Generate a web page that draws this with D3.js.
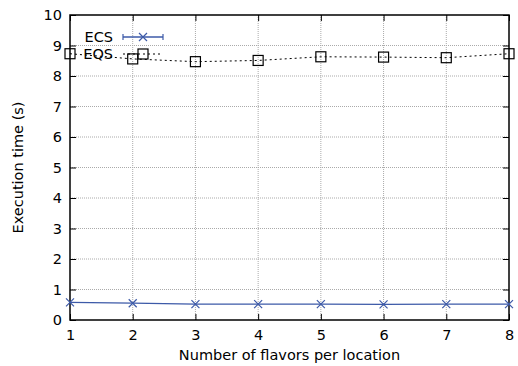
<!DOCTYPE html>
<html>
<head>
<meta charset="utf-8">
<script src="https://d3js.org/d3.v7.min.js"></script>
<style>
  body { margin: 0; background: #fff; }
  text { font-family: 'DejaVu Sans', sans-serif; fill: #000; }
</style>
</head>
<body>
<svg width="518" height="366"></svg>
<script>
// data
var flavors = [1, 2, 3, 4, 5, 6, 7, 8]
var ecs = [0.58, 0.55, 0.52, 0.52, 0.52, 0.51, 0.52, 0.52]
var eqs = [8.73, 8.56, 8.47, 8.51, 8.63, 8.62, 8.60, 8.73]
var yTicks = [0, 1, 2, 3, 4, 5, 6, 7, 8, 9, 10]

var svg = d3.select("svg"),
    margin = {top: 15, right: 9, bottom: 46, left: 70},
    width = +svg.attr("width") - margin.left - margin.right,
    height = +svg.attr("height") - margin.top - margin.bottom,
    g = svg.append("g").attr("transform", "translate(" + margin.left + "," + margin.top + ")")

var x = d3.scaleLinear().domain([1, 8]).range([0, width])
var y = d3.scaleLinear().domain([0, 10]).range([height, 0])

var blue = "#3d5aa8"
var fs = "14.5px"

// grid
g.append("g")
  .selectAll("line")
  .data(flavors.slice(1, -1))
  .join("line")
    .attr("x1", d => x(d)).attr("x2", d => x(d))
    .attr("y1", 0).attr("y2", height)
    .attr("stroke", "#aaa").attr("stroke-width", 1).attr("stroke-dasharray", "1,1")

g.append("g")
  .selectAll("line")
  .data(yTicks.slice(1, -1))
  .join("line")
    .attr("x1", 0).attr("x2", width)
    .attr("y1", d => y(d)).attr("y2", d => y(d))
    .attr("stroke", "#aaa").attr("stroke-width", 1).attr("stroke-dasharray", "1,1")

// axes, gnuplot style: ticks inside, mirrored
g.append("g")
    .attr("transform", "translate(0," + height + ")")
    .call(d3.axisBottom(x).tickValues(flavors).tickSize(-6).tickPadding(10).tickFormat(d3.format("d")))
    .call(a => a.select(".domain").remove())
    .call(a => a.selectAll("text").style("font-size", fs))

g.append("g")
    .call(d3.axisTop(x).tickValues(flavors).tickSize(-6).tickFormat(""))
    .call(a => a.select(".domain").remove())

g.append("g")
    .call(d3.axisLeft(y).tickValues(yTicks).tickSize(-6).tickPadding(8))
    .call(a => a.select(".domain").remove())
    .call(a => a.selectAll("text").style("font-size", fs))

g.append("g")
    .attr("transform", "translate(" + width + ",0)")
    .call(d3.axisRight(y).tickValues(yTicks).tickSize(-6).tickFormat(""))
    .call(a => a.select(".domain").remove())

g.append("rect")
    .attr("width", width).attr("height", height)
    .attr("fill", "none").attr("stroke", "#000").attr("stroke-width", 1.5)

// EQS
var eqsData = flavors.map((f, i) => ({x: f, y: eqs[i]}))
g.append("path")
    .datum(eqsData)
    .attr("fill", "none").attr("stroke", "#000").attr("stroke-width", 1)
    .attr("stroke-dasharray", "2,3")
    .attr("d", d3.line().x(d => x(d.x)).y(d => y(d.y)))

g.selectAll(".box")
  .data(eqsData)
  .join("rect")
    .attr("x", d => x(d.x) - 5).attr("y", d => y(d.y) - 5)
    .attr("width", 10).attr("height", 10)
    .attr("fill", "none").attr("stroke", "#000").attr("stroke-width", 1.2)

// ECS
var ecsData = flavors.map((f, i) => ({x: f, y: ecs[i]}))
g.append("path")
    .datum(ecsData)
    .attr("fill", "none").attr("stroke", blue).attr("stroke-width", 1.3)
    .attr("d", d3.line().x(d => x(d.x)).y(d => y(d.y)))

function cross(sel, cx, cy) {
  sel.append("path")
    .attr("d", "M" + (cx - 4) + "," + (cy - 4) + "L" + (cx + 4) + "," + (cy + 4) +
               "M" + (cx - 4) + "," + (cy + 4) + "L" + (cx + 4) + "," + (cy - 4))
    .attr("stroke", blue).attr("stroke-width", 1.2).attr("fill", "none")
}
ecsData.forEach(d => cross(g, x(d.x), y(d.y)))

// legend
var leg = svg.append("g")
leg.append("text").attr("x", 113).attr("y", 42).attr("text-anchor", "end")
    .style("font-size", fs).text("ECS")
leg.append("line").attr("x1", 123).attr("x2", 163).attr("y1", 37).attr("y2", 37)
    .attr("stroke", blue).attr("stroke-width", 1.3)
leg.append("line").attr("x1", 123).attr("x2", 123).attr("y1", 34).attr("y2", 40)
    .attr("stroke", blue).attr("stroke-width", 1.2)
leg.append("line").attr("x1", 163).attr("x2", 163).attr("y1", 34).attr("y2", 40)
    .attr("stroke", blue).attr("stroke-width", 1.2)
cross(leg, 143, 37)

leg.append("text").attr("x", 113).attr("y", 59).attr("text-anchor", "end")
    .style("font-size", fs).text("EQS")
leg.append("line").attr("x1", 123).attr("x2", 163).attr("y1", 54).attr("y2", 54)
    .attr("stroke", "#000").attr("stroke-width", 1).attr("stroke-dasharray", "2,3")
leg.append("rect").attr("x", 138).attr("y", 49).attr("width", 10).attr("height", 10)
    .attr("fill", "none").attr("stroke", "#000").attr("stroke-width", 1.2)

// axis titles
svg.append("text")
    .attr("x", margin.left + width / 2).attr("y", 360)
    .attr("text-anchor", "middle").style("font-size", fs)
    .text("Number of flavors per location")

svg.append("text")
    .attr("transform", "translate(23," + (margin.top + height / 2) + ") rotate(-90)")
    .attr("text-anchor", "middle").style("font-size", fs)
    .text("Execution time (s)")
</script>
</body>
</html>
